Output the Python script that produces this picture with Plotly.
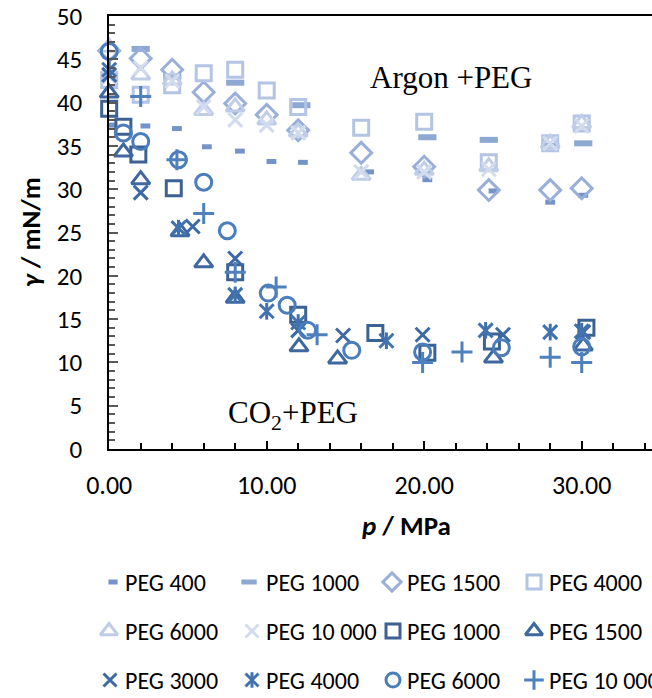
import plotly.graph_objects as go

# ---- Argon + PEG (light series) ----
ar400_p = [0.2, 2.3, 4.3, 6.2, 8.3, 10.3, 12.3, 16.5, 20.2, 24.4, 28.0, 30.1]
ar400_g = [37.4, 37.3, 37.0, 34.9, 34.4, 33.2, 33.1, 32.0, 31.1, 29.8, 28.5, 29.3]

ar1000_p = [2.0, 4.0, 8.0, 12.2, 20.2, 24.1, 28.0, 30.1]
ar1000_g = [46.2, 43.0, 42.3, 39.7, 36.0, 35.7, 35.0, 35.3]

ar1500_p = [0.0, 2.0, 4.0, 6.0, 8.0, 10.0, 12.0, 16.0, 20.0, 24.1, 28.0, 30.0]
ar1500_g = [46.0, 45.1, 43.8, 41.2, 39.9, 38.6, 36.8, 34.2, 32.6, 29.9, 29.9, 30.1]

ar4000_p = [0.0, 2.0, 4.0, 6.0, 8.0, 10.0, 12.0, 16.0, 20.0, 24.1, 28.0, 30.0]
ar4000_g = [42.6, 40.9, 42.0, 43.4, 43.8, 41.4, 39.5, 37.1, 37.8, 33.1, 35.3, 37.6]

ar6000_p = [0.0, 2.0, 4.0, 6.0, 8.0, 10.0, 12.0, 16.0, 20.0, 24.1, 28.0, 30.0]
ar6000_g = [46.4, 43.2, 42.6, 39.1, 39.5, 38.0, 36.6, 31.6, 32.2, 32.6, 35.3, 37.6]

ar10000_p = [0.0, 2.0, 4.0, 6.0, 8.0, 10.0, 12.0, 16.0, 20.0, 24.1, 28.0, 30.0]
ar10000_g = [43.0, 44.0, 42.5, 39.5, 38.0, 37.4, 36.5, 32.0, 32.0, 32.3, 35.3, 37.3]

# ---- CO2 + PEG (dark series) ----
co1000_p = [0.0, 0.9, 1.85, 4.1, 8.0, 12.0, 16.9, 20.2, 24.3, 30.3]
co1000_g = [39.3, 37.2, 34.0, 30.1, 20.4, 15.5, 13.4, 11.1, 12.4, 14.0]

co1500_p = [0.0, 0.9, 2.0, 4.5, 6.0, 8.0, 12.05, 14.5, 24.4, 30.1]
co1500_g = [41.1, 34.3, 31.1, 25.1, 21.5, 17.4, 11.8, 10.4, 10.5, 11.9]

co3000_p = [0.0, 2.0, 5.3, 8.0, 12.0, 14.85, 19.9, 25.0, 30.1]
co3000_g = [43.2, 29.6, 25.7, 22.0, 13.7, 13.1, 13.2, 13.2, 13.5]

co4000_p = [0.0, 4.4, 8.0, 10.0, 12.0, 17.6, 23.9, 28.0, 30.0]
co4000_g = [43.8, 25.5, 17.8, 15.9, 14.6, 12.5, 13.7, 13.5, 13.6]

co6000_p = [0.0, 0.9, 2.0, 4.4, 6.0, 7.5, 10.1, 11.3, 12.6, 15.4, 19.9, 24.9, 30.0]
co6000_g = [45.9, 36.5, 35.5, 33.4, 30.8, 25.2, 18.0, 16.6, 13.7, 11.4, 11.2, 11.7, 11.8]

co10000_p = [2.0, 4.3, 6.0, 8.0, 10.6, 13.2, 19.9, 22.4, 28.0, 30.0]
co10000_g = [40.7, 33.4, 27.2, 20.4, 18.7, 13.2, 10.0, 11.2, 10.6, 10.0]

SANS = "Carlito, Lato, sans-serif"
SERIF = "Liberation Serif, Times New Roman, serif"

# series styling: (name, x, y, symbol, colour, size, line width, key size, key gap)
series = [
    ("PEG 400", ar400_p, ar400_g, "line-ew", "#7393c9", 7, 5, 6.5, 10),
    ("PEG 1000", ar1000_p, ar1000_g, "line-ew", "#8ea8d4", 13, 6, 11, 15),
    ("PEG 1500", ar1500_p, ar1500_g, "diamond-open", "#99afd9", 16, 3, 14, 13),
    ("PEG 4000", ar4000_p, ar4000_g, "square-open", "#b4c4e4", 15, 3, 14, 13),
    ("PEG 6000", ar6000_p, ar6000_g, "triangle-up-open", "#bfcde8", 16, 3, 15, 14),
    ("PEG 10 000", ar10000_p, ar10000_g, "x-thin", "#d3dcee", 14, 3, 13, 12),
    ("PEG 1000", co1000_p, co1000_g, "square-open", "#3c6294", 15, 3, 14, 12),
    ("PEG 1500", co1500_p, co1500_g, "triangle-up-open", "#3f67a0", 16, 3, 15, 13),
    ("PEG 3000", co3000_p, co3000_g, "x-thin", "#3d6aa6", 14, 3, 13, 13),
    ("PEG 4000", co4000_p, co4000_g, "asterisk", "#4272ae", 14, 3, 13, 12),
    ("PEG 6000", co6000_p, co6000_g, "circle-open", "#4a7dbc", 16, 3, 14, 12),
    ("PEG 10 000", co10000_p, co10000_g, "cross-thin", "#4f81bd", 15, 3, 14, 13),
]

W, H = 652, 698
TOP = 16
PLOT_LEFT, PLOT_BOTTOM = 109.2, 449
PAPER_H = H - TOP


def px(xpx):
    return xpx / W


def py(ypx):
    return (H - ypx) / PAPER_H


fig = go.Figure()


def marker_traces(x, y, symbol, color, size, width, xa, ya):
    # the six-armed star is an x with a vertical bar laid over it
    parts = [("x-thin", size), ("line-ns", size * 0.85)] if symbol == "asterisk" else [(symbol, size)]
    for sym, sz in parts:
        fig.add_trace(go.Scatter(
            x=x, y=y, mode="markers", showlegend=False, xaxis=xa, yaxis=ya,
            cliponaxis=False,
            marker=dict(symbol=sym, size=sz, color=color, line=dict(color=color, width=width)),
        ))


for name, x, y, sym, col, sz, lw, ksz, kgap in series:
    marker_traces(x, y, sym, col, sz, lw, "x", "y")

# key below the chart: 3 rows x 4 columns, laid out on a pixel-scaled helper axis
KEY_COL_TEXT = [123, 264, 405, 547]
KEY_ROW_Y = [582, 631, 680]
annotations = []
for i, (name, x, y, sym, col, sz, lw, ksz, kgap) in enumerate(series):
    r, c = divmod(i, 4)
    tx, ty = KEY_COL_TEXT[c], KEY_ROW_Y[r]
    marker_traces([tx - kgap], [ty], sym, col, ksz, lw if sym != "line-ew" else 5, "x2", "y2")
    annotations.append(dict(text=name, x=tx, y=ty, xref="x2", yref="y2",
                            xanchor="left", yanchor="middle", showarrow=False,
                            font=dict(family=SANS, size=24, color="#000000")))


def note(text, xpx, ypx, family, size, angle=0):
    return dict(text=text, x=px(xpx), y=py(ypx), xref="paper", yref="paper",
                xanchor="center", yanchor="middle", showarrow=False, textangle=angle,
                font=dict(family=family, size=size, color="#000000"))


annotations += [
    note("<b><i>p</i> / MPa</b>", 407, 525, SANS, 27),
    note("<b><i>γ</i> / mN/m</b>", 30, 232, SANS, 27, -90),
    note("Argon +PEG", 451, 77, SERIF, 31),
    note("CO<sub>2</sub>+PEG", 293, 415, SERIF, 31),
]

fig.update_layout(
    width=W, height=H,
    margin=dict(l=0, r=0, t=TOP, b=0, autoexpand=False),
    paper_bgcolor="white", plot_bgcolor="rgba(0,0,0,0)",
    font=dict(family=SANS, color="#000000"),
    showlegend=False,
    xaxis=dict(
        domain=[px(PLOT_LEFT), 1], automargin=False,
        range=[0, (W - PLOT_LEFT) / 15.75], showgrid=False, zeroline=False,
        showline=True, linecolor="#000000", linewidth=2, mirror=True,
        ticks="inside", ticklen=8, tickwidth=2, tickcolor="#000000",
        tickmode="linear", tick0=0, dtick=10, tickformat=".2f",
        minor=dict(ticks="inside", dtick=2, ticklen=6, tickwidth=1.5, tickcolor="#000000"),
        tickfont=dict(family=SANS, size=26, color="#000000"),
        ticklabelstandoff=12,
    ),
    yaxis=dict(
        domain=[py(PLOT_BOTTOM), 1], automargin=False,
        range=[0, 50], showgrid=False, zeroline=False,
        showline=True, linecolor="#000000", linewidth=2,
        ticks="inside", ticklen=9, tickwidth=2, tickcolor="#595959",
        tickmode="linear", tick0=0, dtick=5,
        minor=dict(ticks="inside", dtick=1, ticklen=6, tickwidth=1.5, tickcolor="#595959"),
        tickfont=dict(family=SANS, size=25, color="#000000"),
        ticklabelstandoff=20,
    ),
    xaxis2=dict(domain=[0, 1], range=[0, W], visible=False, fixedrange=True, automargin=False),
    yaxis2=dict(domain=[0, py(552)], range=[H, 552], visible=False, fixedrange=True,
                automargin=False),
    annotations=annotations,
)

fig.write_html("out.html")
